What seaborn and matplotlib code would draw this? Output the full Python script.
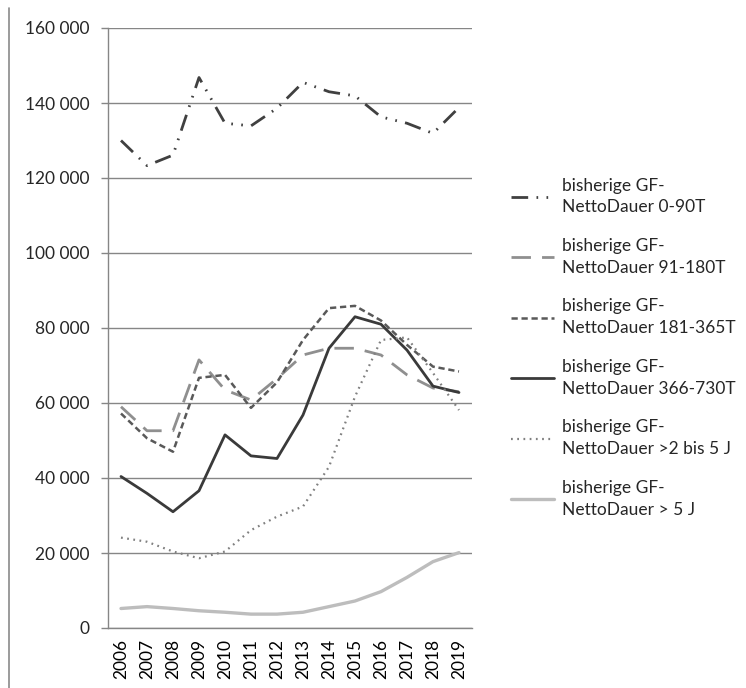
import pandas as pd
import matplotlib
matplotlib.use("Agg")
import matplotlib.pyplot as plt
from matplotlib.lines import Line2D
from matplotlib.ticker import FuncFormatter, MultipleLocator
import seaborn as sns

# values
years = list(range(2006, 2020))

dauer_0_90 = [130000, 123300, 126100, 146800, 134600, 133900, 138600,
              145500, 143000, 141900, 136300, 134600, 131900, 138800]
dauer_91_180 = [59000, 52600, 52600, 71500, 63500, 60800, 66500,
                72800, 74600, 74600, 72800, 67500, 64000, 63000]
dauer_181_365 = [57200, 50600, 47000, 66700, 67500, 58700, 65500,
                 76800, 85300, 85900, 82000, 75500, 69700, 68400]
dauer_366_730 = [40400, 35900, 31000, 36600, 51500, 45900, 45200,
                 56800, 74600, 83000, 81000, 74100, 64500, 62800]
dauer_2_5j = [24100, 23000, 20400, 18600, 20400, 26100, 29700,
              32400, 43000, 61700, 76800, 77500, 68000, 58100]
dauer_5j = [5200, 5700, 5200, 4600, 4200, 3700, 3700,
            4200, 5700, 7200, 9700, 13500, 17700, 20100]

labels = [
    "bisherige GF-\nNettoDauer 0-90T",
    "bisherige GF-\nNettoDauer 91-180T",
    "bisherige GF-\nNettoDauer 181-365T",
    "bisherige GF-\nNettoDauer 366-730T",
    "bisherige GF-\nNettoDauer >2 bis 5 J",
    "bisherige GF-\nNettoDauer > 5 J",
]
series = [dauer_0_90, dauer_91_180, dauer_181_365, dauer_366_730, dauer_2_5j, dauer_5j]

colors = ["#404040", "#8f8f8f", "#595959", "#3a3a3a", "#808080", "#bdbdbd"]
widths = [2.0, 2.0, 1.8, 2.0, 1.6, 2.4]
dashes = [(6, 3, 0.6, 3, 0.6, 3), (7, 4), (2.5, 1.5), "", (0.8, 2), ""]

rows = []
for lab, vals in zip(labels, series):
    for y, v in zip(years, vals):
        rows.append({"Jahr": y, "Anzahl": v, "Serie": lab})
df = pd.DataFrame(rows)

sns.set_style("white")
plt.rcParams["font.family"] = ["Lato", "DejaVu Sans"]

fig = plt.figure(figsize=(7.46, 6.88), dpi=100)
ax = fig.add_axes([108 / 746, 1 - 628 / 688, (472 - 108) / 746, 600 / 688])

for lab, col, lw, ds in zip(labels, colors, widths, dashes):
    sub = df[df["Serie"] == lab]
    sns.lineplot(data=sub, x="Jahr", y="Anzahl", ax=ax, color=col,
                 linewidth=lw, label=lab)
    l = ax.get_lines()[-1]
    if ds:
        l.set_dashes(ds)

ax.set_xlim(2005.5, 2019.5)
ax.set_ylim(0, 160000)
ax.yaxis.set_major_locator(MultipleLocator(20000))
ax.yaxis.set_major_formatter(FuncFormatter(lambda v, p: f"{v:,.0f}".replace(",", " ")))
ax.set_xticks(years)
ax.set_xticklabels([str(y) for y in years], rotation=90)
ax.set_xticks([y + 0.5 for y in [2005] + years], minor=True)
ax.tick_params(axis="x", which="major", length=0, pad=8, labelsize=12.5, colors="#000000")
ax.tick_params(axis="x", which="minor", length=5, width=1, color="#868686", direction="out")
ax.tick_params(axis="y", length=5, width=1, color="#868686", direction="out",
               labelsize=12.5, pad=8)
ax.tick_params(axis="y", left=True)
ax.set_xlabel("")
ax.set_ylabel("")

ax.grid(axis="y", color="#868686", linewidth=1)
ax.set_axisbelow(True)
for side in ["top", "right"]:
    ax.spines[side].set_visible(False)
for side in ["left", "bottom"]:
    ax.spines[side].set_color("#868686")
    ax.spines[side].set_linewidth(1)

leg = ax.legend(loc="upper left", bbox_to_anchor=(495 / 746, 1 - 162 / 688),
                bbox_transform=fig.transFigure, frameon=False, fontsize=12.5,
                handlelength=2.5, handletextpad=0.45, labelspacing=1.3)
for t in leg.get_texts():
    t.set_linespacing(1.45)

# thin frame line along the left edge of the picture
fig.add_artist(Line2D([9 / 746, 9 / 746], [0, 1 - 8 / 688], transform=fig.transFigure,
                      color="#8a8a8a", linewidth=1.2))

fig.savefig("out.png", dpi=100)
